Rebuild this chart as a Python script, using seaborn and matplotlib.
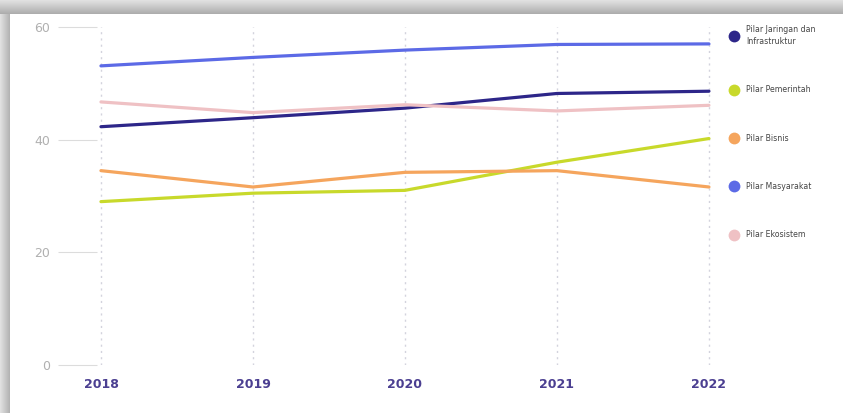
import matplotlib
matplotlib.use("Agg")
import matplotlib.pyplot as plt
import seaborn as sns
import pandas as pd
from matplotlib.lines import Line2D
from matplotlib.patches import Rectangle

years = [2018, 2019, 2020, 2021, 2022]
series_names = ["Pilar Jaringan dan\nInfrastruktur", "Pilar Pemerintah", "Pilar Bisnis",
                "Pilar Masyarakat", "Pilar Ekosistem"]
jaringan = [42.3, 43.9, 45.6, 48.2, 48.6]
pemerintah = [29.0, 30.5, 31.0, 36.0, 40.2]
bisnis = [34.5, 31.6, 34.2, 34.5, 31.6]
masyarakat = [53.1, 54.6, 55.9, 56.9, 57.0]
ekosistem = [46.7, 44.8, 46.2, 45.1, 46.1]
colors = ["#2d2689", "#c8d92b", "#f5a55d", "#5c6ae6", "#efc1c4"]
yticks = [0, 20, 40, 60]

values = [jaringan, pemerintah, bisnis, masyarakat, ekosistem]
rows = []
for name, vals in zip(series_names, values):
    for y, v in zip(years, vals):
        rows.append({"year": y, "value": v, "series": name})
df = pd.DataFrame(rows)

sns.set_theme(style="white")
plt.rcParams["font.family"] = ["DejaVu Sans"]

fig = plt.figure(figsize=(8.43, 4.13), dpi=100)
fig.patch.set_facecolor("white")

# screenshot-like gray frame at top and left
W, H = 843, 413
for i in range(14):
    g = 0.88 - 0.2 * (i / 13)
    fig.patches.append(Rectangle((0, 1 - (i + 1) / H), 1, 1 / H, transform=fig.transFigure,
                                 facecolor=(g, g, g), edgecolor="none", zorder=0))
for i in range(10):
    g = 0.88 - 0.18 * (i / 9)
    fig.patches.append(Rectangle((i / W, 0), 1 / W, 1 - 14 / H, transform=fig.transFigure,
                                 facecolor=(g, g, g), edgecolor="none", zorder=0))

ax_l, ax_r = 97 / W, 712 / W
ax_t, ax_b = 27 / H, 365 / H
ax = fig.add_axes([ax_l, 1 - ax_b, ax_r - ax_l, ax_b - ax_t])
ax.set_facecolor("none")

sns.lineplot(data=df, x="year", y="value", hue="series", palette=colors,
             hue_order=series_names, linewidth=2.3, legend=False, ax=ax, sort=False)

ax.set_xlim(2017.974, 2022.02)
ax.set_ylim(0, 60)
ax.set_xticks(years)
ax.set_xticklabels([str(y) for y in years])
ax.set_yticks(yticks)
ax.set_xlabel("")
ax.set_ylabel("")
for s in ax.spines.values():
    s.set_visible(False)

for y in years:
    ax.axvline(y, color="#d3d3dd", linestyle=(0, (1.5, 3)), linewidth=1, zorder=0)

ax.tick_params(axis="y", length=28, width=0.8, color="#dcdcdc", pad=6,
               labelsize=9, labelcolor="#b0b0b0", left=True)
ax.tick_params(axis="x", length=0, pad=9, labelsize=9, labelcolor="#4b3f91")
for t in ax.get_xticklabels():
    t.set_fontweight("bold")

handles = [Line2D([0], [0], marker="o", linestyle="none", markersize=8.5,
                  markerfacecolor=c, markeredgecolor="none") for c in colors]
leg = fig.legend(handles, series_names, loc="upper left",
                 bbox_to_anchor=(729 / W, 1 - 25 / H), frameon=False,
                 fontsize=5.6, labelspacing=5.05, handletextpad=1.0,
                 borderpad=0, handlelength=1.2, borderaxespad=0)
for t in leg.get_texts():
    t.set_color("#444444")
    t.set_linespacing(1.45)

fig.savefig("out.png", dpi=100)
